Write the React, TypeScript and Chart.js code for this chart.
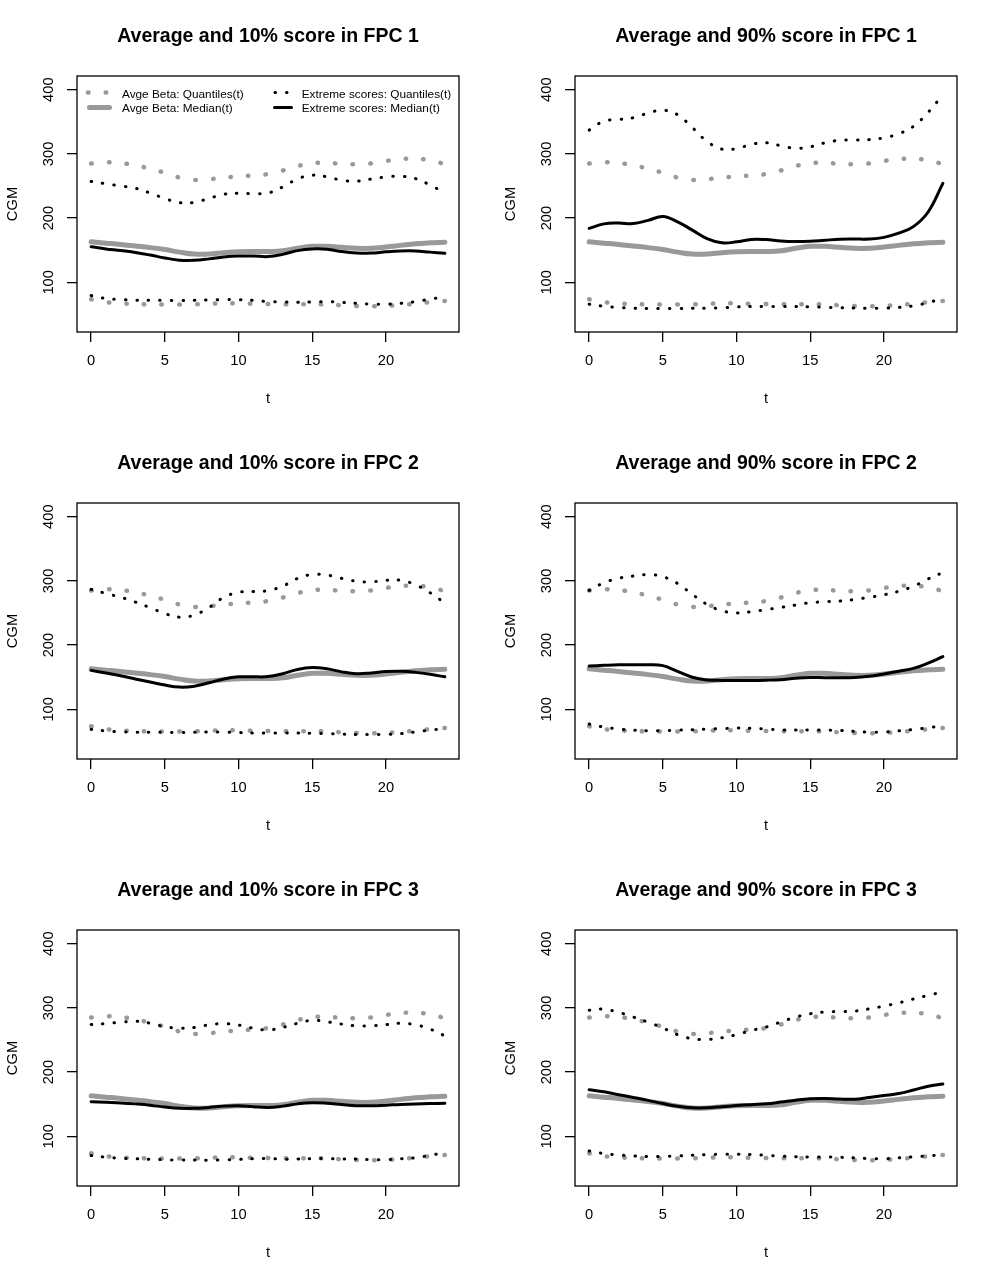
import React, { useEffect, useRef } from 'react';
import { Chart, registerables } from 'chart.js';

Chart.register(...registerables);

// ---------- data ----------
const T = [0, 1, 2, 3, 4, 5, 6, 7, 8, 9, 10, 11, 12, 13, 14, 15, 16, 17, 18, 19, 20, 21, 22, 23, 24];
const X_TICKS = [0, 5, 10, 15, 20];
const Y_TICKS = [100, 200, 300, 400];

// Average beta (same in every panel)
const AVG_UPPER = [285, 287, 286, 282, 277, 270.5, 263, 259.5, 260.5, 263, 265, 266.3, 268.6, 274, 281, 285.5, 286, 284.5, 284, 285, 289, 292, 292.5, 290, 284];
const AVG_LOWER = [73.6, 69.2, 67.2, 66.2, 65.5, 65.3, 65.3, 65.7, 66.5, 67.5, 67.3, 66.6, 66.3, 65.9, 65.8, 65.8, 65.4, 64.2, 63.2, 62.7, 63.3, 64.7, 66.7, 69, 71];
const AVG_MEDIAN = [163, 161, 159, 156.5, 154, 151, 147, 144, 144, 146, 147.5, 148, 148, 149, 153, 156, 156, 154.5, 153, 153, 155, 157.5, 160, 161.5, 162.5];

// FPC 1, 10% score
const FPC1_LO_UPPER = [257, 253.5, 250, 246.5, 239, 230.5, 224, 224.5, 230.7, 237, 238.6, 238, 239, 248.5, 261, 266.8, 264.3, 259, 257.4, 260.8, 264, 265.2, 261.5, 251.5, 239];
const FPC1_LO_LOWER = [79.3, 74.8, 73.1, 72.2, 72, 72, 71.5, 71.9, 72.6, 73.1, 72.9, 71.8, 70, 69.3, 68.9, 69.3, 70, 68.7, 67.3, 66, 65.8, 67.3, 69.8, 73.8, 77];
const FPC1_LO_MEDIAN = [155.5, 152, 149.5, 146.5, 142.5, 138, 134.5, 134.3, 136.5, 139.5, 141, 141, 140, 143.5, 149.3, 152, 151.5, 148, 145.8, 145.5, 147.5, 148.8, 148.8, 147, 145.2];

// FPC 1, 90% score
const FPC1_HI_UPPER = [337, 351, 353.6, 356.3, 363.5, 368, 361, 341, 319.5, 307.5, 308, 314.8, 317.3, 312.8, 308.7, 311, 317.2, 321.3, 321.6, 322.2, 325, 331.3, 342.8, 364.7, 392];
const FPC1_HI_LOWER = [65.8, 62.7, 60.7, 59.7, 59.1, 59.1, 59.1, 59.5, 59.6, 60.3, 61.6, 62.2, 62.2, 62.2, 62.2, 61.8, 61.1, 60.5, 59.9, 59.6, 59.6, 61, 63.2, 68.4, 75];
const FPC1_HI_MEDIAN = [184, 191, 192.2, 191.5, 196.5, 202.3, 194.2, 181.3, 168, 161.5, 163, 166.8, 166.5, 164.3, 163.4, 163.9, 165.5, 167, 167.3, 167.5, 170, 176.5, 186.7, 209.5, 254];

// FPC 2, 10% score
const FPC2_LO_UPPER = [286.8, 280.4, 274.5, 267, 258.3, 249.2, 243.5, 246.8, 258.6, 274.3, 282.2, 283.4, 284.8, 291.8, 303.8, 310, 309, 304, 299.5, 298.3, 301, 301, 294, 281.5, 265.5];
const FPC2_LO_LOWER = [68.8, 66.3, 65.1, 64.4, 64.1, 64.3, 63.8, 64.3, 64.6, 64.5, 63.8, 63.1, 63, 63, 63, 62.6, 62, 61.4, 60.9, 60.9, 60.9, 62, 64.8, 67.7, 70];
const FPC2_LO_MEDIAN = [160.6, 156.5, 152.2, 147.2, 142.5, 137.7, 134.6, 136, 141.3, 147.3, 150.6, 150.6, 151, 155.5, 162, 165, 163, 158.3, 155.4, 156.5, 158.8, 159.2, 157.5, 154.5, 150.6];

// FPC 2, 90% score
const FPC2_HI_UPPER = [285.2, 297, 304, 307.6, 309.8, 306.5, 296, 279, 263.3, 253.5, 250.2, 252, 255.3, 258.7, 262.3, 266, 267.5, 268.6, 271, 274.4, 278.4, 283.8, 291.6, 303, 313];
const FPC2_HI_LOWER = [77.1, 72.3, 69.2, 67.5, 66.7, 66.7, 67.5, 68.1, 69.3, 70, 70.7, 70.5, 69.3, 68, 67.7, 67.7, 67.7, 67, 65.6, 64.4, 64.6, 66.5, 68.5, 71.2, 74.5];
const FPC2_HI_MEDIAN = [167.3, 168.5, 169.4, 169.4, 169.4, 168, 159, 150, 145.8, 145, 144.9, 144.9, 145.3, 146.2, 148.5, 149.6, 149.2, 149.2, 149.6, 151.5, 155, 159.4, 163.7, 172, 182];

// FPC 3, 10% score
const FPC3_LO_UPPER = [274.1, 275.5, 277.7, 279.2, 276.2, 270.8, 268.3, 269.5, 273.6, 275.5, 273.3, 268.4, 265.6, 269.6, 276, 280.6, 278.4, 274.7, 272, 272, 273.9, 276, 273.7, 267, 256.5];
const FPC3_LO_LOWER = [70, 67.5, 65.8, 65, 64.2, 63.5, 63, 63.1, 62.7, 63.3, 64, 65, 65.3, 64.5, 64.5, 65.3, 65.3, 64.7, 64.5, 63.8, 63.7, 65, 66.5, 70.5, 74];
const FPC3_LO_MEDIAN = [154, 153, 152, 150.5, 148.5, 145.5, 143.5, 143.5, 145, 147, 147.5, 146, 145, 147, 150.5, 152.3, 151.5, 149.5, 147.7, 147.5, 148.5, 149.7, 150.5, 151, 151.3];

// FPC 3, 90% score
const FPC3_HI_UPPER = [296.4, 298, 293, 285.7, 277.7, 268.8, 258.2, 252, 250.8, 253.5, 258.3, 264.8, 270.2, 278, 285.6, 290.8, 293.7, 294.3, 295, 298.5, 302.8, 307.8, 313.8, 319.5, 325];
const FPC3_HI_LOWER = [77.2, 73.1, 70.9, 69.4, 68.4, 68.8, 69.4, 70.6, 71.5, 72, 72, 71.6, 70.5, 69.1, 68.2, 67.9, 67.9, 67.3, 66.5, 65.3, 65, 66.4, 67.9, 69.5, 71.5];
const FPC3_HI_MEDIAN = [172.5, 169.3, 164.8, 160.5, 156, 151, 146.8, 144.5, 144.5, 146, 147.8, 149.3, 150.6, 153.3, 156.3, 158.6, 159, 158, 157.7, 160.5, 163.5, 166.6, 172, 178, 181.3];

const TITLES = [
  'Average and 10% score in FPC 1',
  'Average and 90% score in FPC 1',
  'Average and 10% score in FPC 2',
  'Average and 90% score in FPC 2',
  'Average and 10% score in FPC 3',
  'Average and 90% score in FPC 3',
];

const LEGEND_LABELS = [
  'Avge Beta: Quantiles(t)',
  'Avge Beta: Median(t)',
  'Extreme scores: Quantiles(t)',
  'Extreme scores: Median(t)',
];

const X_LABEL = 't';
const Y_LABEL = 'CGM';

// ---------- styling ----------
const FONT = '"Liberation Sans", Arial, Helvetica, sans-serif';
const GRAY = '#999999';
const W = 498;
const H = 427;
const PAD = { left: 0, right: 39, top: 76, bottom: 0 };
const Y_AXIS_W = 77;
const X_AXIS_H = 95;
const GRAY_DASH = [0.5, 17.2];
const BLACK_DASH = [0.5, 11];

type Spec = {
  title: string;
  upper: number[];
  lower: number[];
  median: number[];
  legend: boolean;
};

const SPECS: Spec[] = [
  { title: TITLES[0], upper: FPC1_LO_UPPER, lower: FPC1_LO_LOWER, median: FPC1_LO_MEDIAN, legend: true },
  { title: TITLES[1], upper: FPC1_HI_UPPER, lower: FPC1_HI_LOWER, median: FPC1_HI_MEDIAN, legend: false },
  { title: TITLES[2], upper: FPC2_LO_UPPER, lower: FPC2_LO_LOWER, median: FPC2_LO_MEDIAN, legend: false },
  { title: TITLES[3], upper: FPC2_HI_UPPER, lower: FPC2_HI_LOWER, median: FPC2_HI_MEDIAN, legend: false },
  { title: TITLES[4], upper: FPC3_LO_UPPER, lower: FPC3_LO_LOWER, median: FPC3_LO_MEDIAN, legend: false },
  { title: TITLES[5], upper: FPC3_HI_UPPER, lower: FPC3_HI_LOWER, median: FPC3_HI_MEDIAN, legend: false },
];

const pts = (vals: number[]) => T.map((t, i) => ({ x: t, y: vals[i] }));

function lineDs(vals: number[], color: string, width: number, dash: number[] | null) {
  return {
    data: pts(vals),
    borderColor: color,
    backgroundColor: color,
    borderWidth: width,
    borderDash: dash || [],
    borderCapStyle: 'round' as const,
    borderJoinStyle: 'round' as const,
    tension: 0.4,
    pointRadius: 0,
    pointHoverRadius: 0,
    fill: false,
  };
}

function Panel({ spec, left, top }: { spec: Spec; left: number; top: number }) {
  const ref = useRef<HTMLCanvasElement | null>(null);

  useEffect(() => {
    if (!ref.current) return;
    const decor = {
      id: 'decor',
      afterDraw(chart: any) {
        const ctx = chart.ctx as CanvasRenderingContext2D;
        const a = chart.chartArea;
        const xs = chart.scales.x;
        const ys = chart.scales.y;
        const cx = (a.left + a.right) / 2;
        const cy = (a.top + a.bottom) / 2;
        ctx.save();
        // box
        ctx.strokeStyle = '#000';
        ctx.lineWidth = 1.3;
        ctx.setLineDash([]);
        ctx.strokeRect(a.left, a.top, a.right - a.left, a.bottom - a.top);
        ctx.fillStyle = '#000';
        // title
        ctx.font = `bold 19.5px ${FONT}`;
        ctx.textAlign = 'center';
        ctx.textBaseline = 'alphabetic';
        ctx.fillText(spec.title, cx, 42);
        // x tick labels
        ctx.font = `14.7px ${FONT}`;
        X_TICKS.forEach((v) => ctx.fillText(String(v), xs.getPixelForValue(v), a.bottom + 33));
        ctx.fillText(X_LABEL, cx, a.bottom + 70.7);
        // y tick labels
        Y_TICKS.forEach((v) => {
          ctx.save();
          ctx.translate(a.left - 23.7, ys.getPixelForValue(v));
          ctx.rotate(-Math.PI / 2);
          ctx.fillText(String(v), 0, 0);
          ctx.restore();
        });
        ctx.save();
        ctx.translate(17, cy);
        ctx.rotate(-Math.PI / 2);
        ctx.fillText(Y_LABEL, 0, 0);
        ctx.restore();

        if (spec.legend) {
          ctx.lineCap = 'round';
          // gray dots
          ctx.strokeStyle = GRAY;
          ctx.lineWidth = 4.5;
          ctx.setLineDash(GRAY_DASH);
          ctx.beginPath();
          ctx.moveTo(88, 92.5);
          ctx.lineTo(110, 92.5);
          ctx.stroke();
          // gray line
          ctx.setLineDash([]);
          ctx.lineWidth = 5;
          ctx.beginPath();
          ctx.moveTo(89.5, 107.5);
          ctx.lineTo(109.5, 107.5);
          ctx.stroke();
          // black dots
          ctx.strokeStyle = '#000';
          ctx.lineWidth = 3;
          ctx.setLineDash(BLACK_DASH);
          ctx.beginPath();
          ctx.moveTo(275, 92.5);
          ctx.lineTo(291, 92.5);
          ctx.stroke();
          // black line
          ctx.setLineDash([]);
          ctx.beginPath();
          ctx.moveTo(274.5, 107.5);
          ctx.lineTo(291.5, 107.5);
          ctx.stroke();
          // text
          ctx.font = `11.8px ${FONT}`;
          ctx.textAlign = 'left';
          ctx.fillStyle = '#000';
          ctx.fillText(LEGEND_LABELS[0], 122, 97.5);
          ctx.fillText(LEGEND_LABELS[1], 122, 112);
          ctx.fillText(LEGEND_LABELS[2], 301.7, 97.5);
          ctx.fillText(LEGEND_LABELS[3], 301.7, 112);
        }
        ctx.restore();
      },
    };

    const chart = new Chart(ref.current, {
      type: 'line',
      data: {
        datasets: [
          lineDs(spec.median, '#000', 3, null),
          lineDs(spec.upper, '#000', 3, BLACK_DASH),
          lineDs(spec.lower, '#000', 3, BLACK_DASH),
          lineDs(AVG_MEDIAN, GRAY, 5, null),
          lineDs(AVG_UPPER, GRAY, 4.5, GRAY_DASH),
          lineDs(AVG_LOWER, GRAY, 4.5, GRAY_DASH),
        ] as any,
      },
      options: {
        responsive: false,
        animation: false,
        events: [],
        layout: { padding: PAD },
        plugins: {
          legend: { display: false },
          title: { display: false },
          tooltip: { enabled: false },
        },
        scales: {
          x: {
            type: 'linear',
            position: 'bottom',
            min: -0.96,
            max: 24.96,
            bounds: 'data',
            afterBuildTicks: (s: any) => {
              s.ticks = X_TICKS.map((v) => ({ value: v }));
            },
            afterFit: (s: any) => {
              s.height = X_AXIS_H;
            },
            ticks: { display: false },
            grid: {
              display: true,
              drawOnChartArea: false,
              drawTicks: true,
              tickLength: 10,
              color: '#000',
              lineWidth: 1.3,
            },
            border: { display: false },
          },
          y: {
            type: 'linear',
            position: 'left',
            min: 22.6,
            max: 421.3,
            bounds: 'data',
            afterBuildTicks: (s: any) => {
              s.ticks = Y_TICKS.map((v) => ({ value: v }));
            },
            afterFit: (s: any) => {
              s.width = Y_AXIS_W;
            },
            ticks: { display: false },
            grid: {
              display: true,
              drawOnChartArea: false,
              drawTicks: true,
              tickLength: 10,
              color: '#000',
              lineWidth: 1.3,
            },
            border: { display: false },
          },
        },
      } as any,
      plugins: [decor],
    });
    return () => chart.destroy();
  }, [spec]);

  return (
    <canvas
      ref={ref}
      width={W}
      height={H}
      style={{ position: 'absolute', left, top, width: W, height: H, display: 'block' }}
    />
  );
}

export default function App() {
  return (
    <div
      style={{
        position: 'absolute',
        left: 0,
        top: 0,
        width: 997,
        height: 1281,
        background: '#fff',
        overflow: 'hidden',
      }}
    >
      {SPECS.map((s, i) => (
        <Panel key={i} spec={s} left={(i % 2) * W} top={Math.floor(i / 2) * H} />
      ))}
    </div>
  );
}
